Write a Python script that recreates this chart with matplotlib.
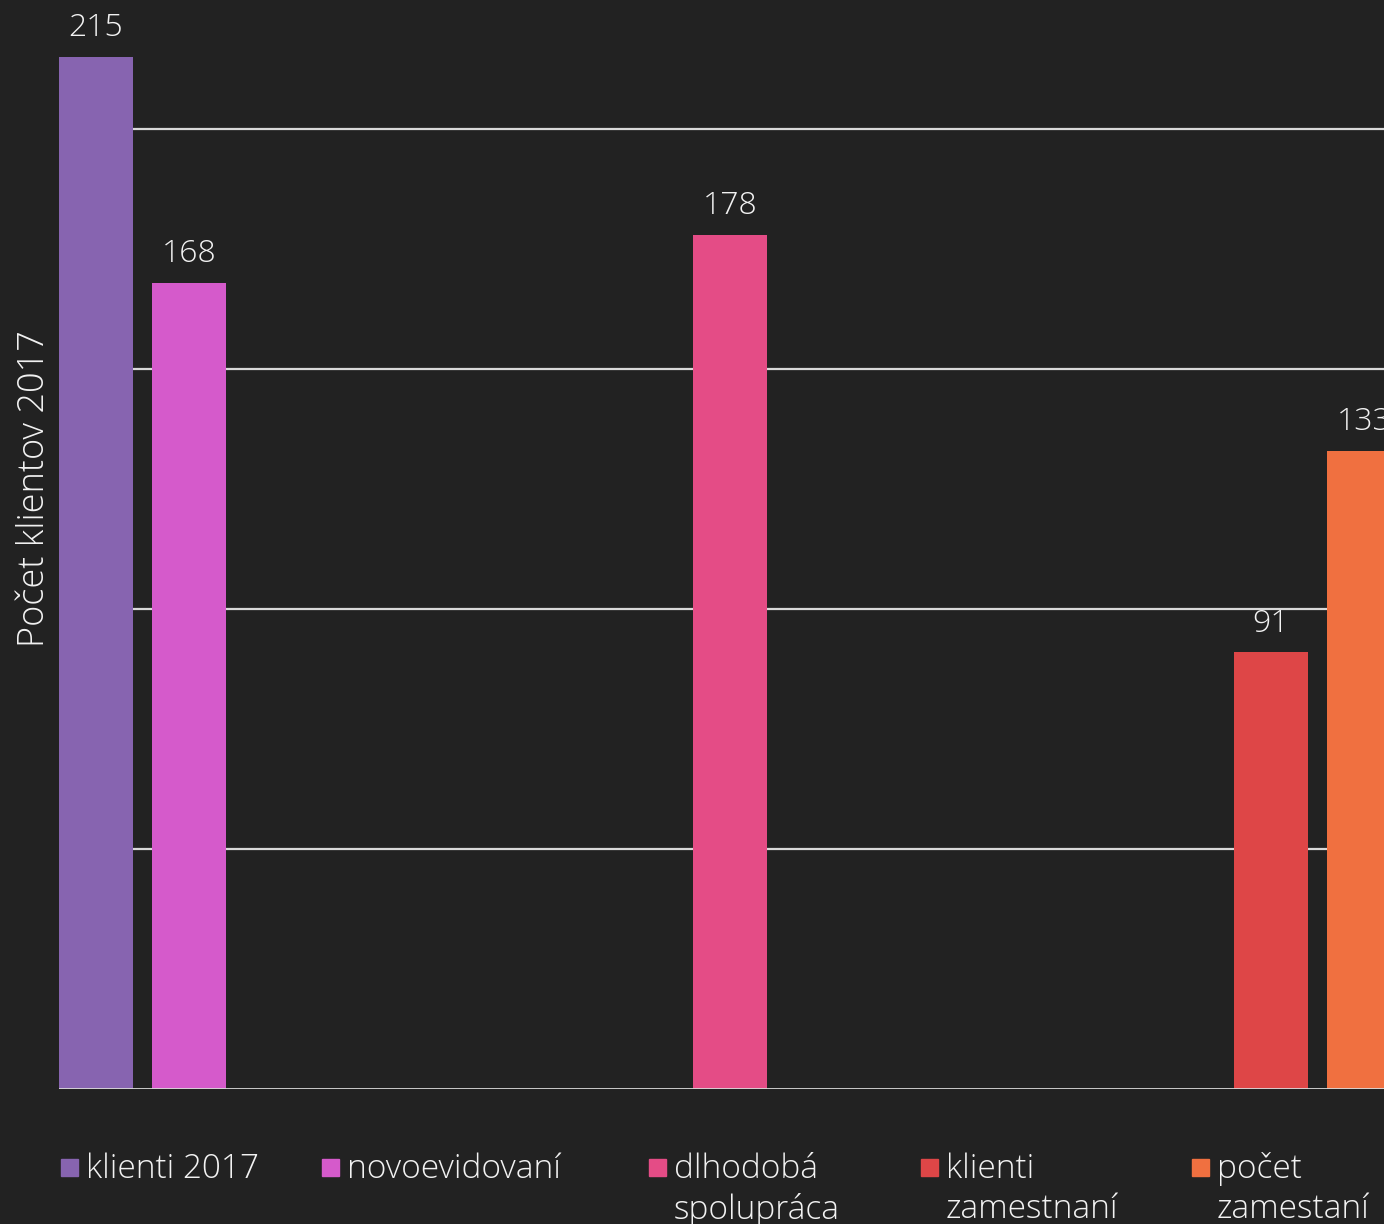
import numpy as np
import matplotlib
matplotlib.use("Agg")
import matplotlib.pyplot as plt
from matplotlib.patches import Rectangle

# data
series_names = ["klienti 2017", "novoevidovaní", "dlhodobá\nspolupráca", "klienti\nzamestnaní", "počet\nzamestaní"]
klienti_2017 = [215, np.nan, np.nan]
novoevidovani = [168, np.nan, np.nan]
dlhodoba_spolupraca = [np.nan, 178, np.nan]
klienti_zamestnani = [np.nan, np.nan, 91]
pocet_zamestani = [np.nan, np.nan, 133]
series_values = [klienti_2017, novoevidovani, dlhodoba_spolupraca, klienti_zamestnani, pocet_zamestani]
colors = ["#8764b0", "#d55acb", "#e44c86", "#de4647", "#f07040"]
y_label = "Počet klientov 2017"

BG = "#222222"
FG = "#f2f2f2"
plt.rcParams["font.family"] = ["Open Sans", "DejaVu Sans"]
plt.rcParams["font.weight"] = "light"

W, H = 1384, 1224
fig = plt.figure(figsize=(W / 100, H / 100), dpi=100, facecolor=BG)
ax = fig.add_axes([59 / W, 135 / H, 1343 / W, 1089 / H])
ax.set_facecolor(BG)

x = np.arange(3)
bar_w = 74 / 448
step = 93 / 448
for i, (vals, c) in enumerate(zip(series_values, colors)):
    bars = ax.bar(x + (i - 2) * step, vals, width=bar_w, color=c, zorder=3)
    labels = ["" if np.isnan(v) else f"{v:g}" for v in vals]
    ax.bar_label(bars, labels=labels, padding=9, color=FG, fontsize=23, clip_on=False)

ax.set_xlim(-0.5 + 1 / 448, 2.5)
ax.set_ylim(0, 1089 / 4.8)
for y in [50, 100, 150, 200]:
    ax.axhline(y, color="#d9d9d9", lw=1.6, zorder=1)
ax.axhline(0, color="#d9d9d9", lw=2, zorder=4)
for s in ax.spines.values():
    s.set_visible(False)
ax.set_xticks([])
ax.set_yticks([])

fig.text(35 / W, 1 - 489 / H, y_label, rotation=90, ha="center", va="center",
         color=FG, fontsize=26)

# legend, laid out by hand like the original
legend_x = [61, 322, 649, 921, 1192]
for lx, name, c in zip(legend_x, series_names, colors):
    fig.add_artist(Rectangle((lx / W, 1 - 1176 / H), 17 / W, 17 / H,
                             transform=fig.transFigure, color=c))
    fig.text((lx + 25) / W, 1 - 1152 / H, name, ha="left", va="top",
             color=FG, fontsize=24, linespacing=1.27)

fig.savefig("out.png", dpi=100, facecolor=BG)
